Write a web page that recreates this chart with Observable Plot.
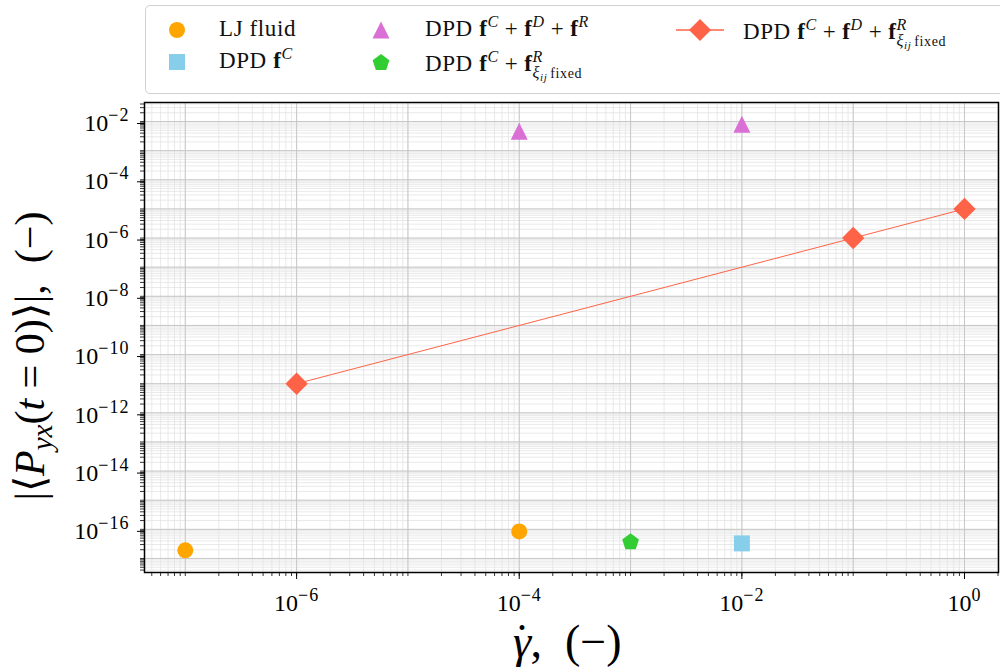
<!DOCTYPE html>
<html><head><meta charset="utf-8">
<script src="https://cdn.jsdelivr.net/npm/d3@7"></script>
<script src="https://cdn.jsdelivr.net/npm/@observablehq/plot@0.6"></script>
<style>
body{margin:0;background:#fff;}
#wrap{position:relative;width:1000px;height:668px;overflow:hidden;font-family:"Liberation Serif",serif;background:#fff;}
#legend{position:absolute;left:145px;top:5px;width:880px;height:87px;border:1.5px solid #d0d0d0;border-radius:5px;background:rgba(255,255,255,0.85);}
.lab{position:absolute;font-size:23px;line-height:1;white-space:nowrap;color:#111;letter-spacing:0.6px;}
.lab sup{font-size:16px;vertical-align:9px;line-height:0;}
.op{margin:0 6px;}
.ss{display:inline-flex;flex-direction:column;font-size:16px;line-height:1;vertical-align:9px;}
.ss sub{font-size:11px;vertical-align:-3px;line-height:0;}
.ss .fx{font-size:14px;margin-left:3px;}
.mk{position:absolute;overflow:visible;}
</style></head><body><div id="wrap"></div>
<script>
// ---- data ----
const ljX = [1e-7, 1e-4];
const ljY = [1.9e-17, 8.5e-17];
const dpdCX = [1e-2];
const dpdCY = [3.3e-17];
const dpdCDRX = [1e-4, 1e-2];
const dpdCDRY = [4.6e-3, 8.0e-3];
const dpdCRfixX = [1e-3];
const dpdCRfixY = [3.9e-17];
const dpdCDRfixX = [1e-6, 1e-1, 1e0];
const dpdCDRfixY = [1e-11, 1e-6, 1e-5];

const xTickLabels = [1e-6, 1e-4, 1e-2, 1e0];
const yTickLabels = [1e-16, 1e-14, 1e-12, 1e-10, 1e-8, 1e-6, 1e-4, 1e-2];
const xDecades = [1e-8, 1e-7, 1e-6, 1e-5, 1e-4, 1e-3, 1e-2, 1e-1, 1e0];
const yDecades = [1e-18,1e-17,1e-16,1e-15,1e-14,1e-13,1e-12,1e-11,1e-10,1e-9,1e-8,1e-7,1e-6,1e-5,1e-4,1e-3,1e-2,1e-1];
const subs = [1,2,3,4,5,6,7,8,9];

const xDomain = [4.3e-8, 2.02];
const yDomain = [3.3e-18, 4.5e-2];

const colors = {lj:"#FFA500", c:"#87CEEB", cdr:"#DA70D6", crfix:"#32CD32", cdrfix:"#FF6347"};

const inD = (v, d) => v >= d[0] && v <= d[1];
const xMinor = xDecades.flatMap(d => subs.map(s => s*d)).filter(v => inD(v, xDomain));
const yMinor = yDecades.flatMap(d => subs.map(s => s*d)).filter(v => inD(v, yDomain));
const xMajor = xDecades.filter(v => inD(v, xDomain));
const yMajor = yDecades.filter(v => inD(v, yDomain));

const pts = (xs, ys) => xs.map((x, i) => ({x, y: ys[i]}));

// ---- custom marker symbols ----
const mkSym = fn => ({draw(ctx, size){ fn(ctx, Math.sqrt(size/Math.PI)); }});
const symCircle = mkSym((c, r) => { c.moveTo(r, 0); c.arc(0, 0, r, 0, 2*Math.PI); c.closePath(); });
const symSquare = mkSym((c, r) => { c.moveTo(-r,-r); c.lineTo(r,-r); c.lineTo(r,r); c.lineTo(-r,r); c.closePath(); });
const symTri = mkSym((c, r) => { const h = r*1.06; c.moveTo(0,-h); c.lineTo(h,h); c.lineTo(-h,h); c.closePath(); });
const symPent = mkSym((c, r) => { const R = r*1.1; for (let k=0;k<5;k++){ const a=-Math.PI/2+k*2*Math.PI/5; const px=R*Math.cos(a), py=R*Math.sin(a)+R*0.1; k?c.lineTo(px,py):c.moveTo(px,py);} c.closePath(); });
const symDiam = mkSym((c, r) => { const h = r*1.4; c.moveTo(0,-h); c.lineTo(h,0); c.lineTo(0,h); c.lineTo(-h,0); c.closePath(); });

const fmt = d => "10^" + String(Math.round(Math.log10(d))).replace("-", "−");

const plot = Plot.plot({
  width: 1000, height: 668,
  marginLeft: 144, marginRight: 2, marginTop: 102, marginBottom: 96,
  style: {fontFamily: "Liberation Serif, serif", background: "white", color: "black"},
  x: {type: "log", domain: xDomain},
  y: {type: "log", domain: yDomain},
  marks: [
    Plot.ruleX(xMinor, {stroke: "#e3e3e3", strokeWidth: 0.8}),
    Plot.ruleY(yMinor, {stroke: "#e3e3e3", strokeWidth: 0.8}),
    Plot.ruleX(xMajor, {stroke: "#c4c4c4", strokeWidth: 0.9}),
    Plot.ruleY(yMajor, {stroke: "#c4c4c4", strokeWidth: 0.9}),
    Plot.axisX({ticks: xMinor, tickSize: 4, tickFormat: () => "", label: null, strokeWidth: 0.8}),
    Plot.axisY({ticks: yMinor, tickSize: 4, tickFormat: () => "", label: null, strokeWidth: 0.8}),
    Plot.axisX({ticks: xTickLabels, tickSize: 7, tickPadding: 14, fontSize: 24, tickFormat: fmt, label: null, strokeWidth: 1}),
    Plot.axisY({ticks: yTickLabels, tickSize: 7, tickPadding: 8, fontSize: 24, tickFormat: fmt, label: null, strokeWidth: 1, dy: 2}),
    Plot.line(pts(dpdCDRfixX, dpdCDRfixY), {x: "x", y: "y", stroke: colors.cdrfix, strokeWidth: 1}),
    Plot.dot(pts(ljX, ljY), {x: "x", y: "y", symbol: symCircle, r: 8, fill: colors.lj}),
    Plot.dot(pts(dpdCX, dpdCY), {x: "x", y: "y", symbol: symSquare, r: 8, fill: colors.c}),
    Plot.dot(pts(dpdCDRX, dpdCDRY), {x: "x", y: "y", symbol: symTri, r: 8, fill: colors.cdr}),
    Plot.dot(pts(dpdCRfixX, dpdCRfixY), {x: "x", y: "y", symbol: symPent, r: 8, fill: colors.crfix}),
    Plot.dot(pts(dpdCDRfixX, dpdCDRfixY), {x: "x", y: "y", symbol: symDiam, r: 8, fill: colors.cdrfix}),
    Plot.frame({stroke: "black", strokeWidth: 1.5})
  ]
});

// superscript exponents on tick labels
d3.select(plot).selectAll('g[aria-label$="tick label"] text').each(function(){
  const t = this.textContent;
  if (!t.includes("^")) return;
  const [base, ex] = t.split("^");
  const sel = d3.select(this);
  sel.text(base);
  sel.append("tspan").attr("dy", "-10px").attr("font-size", "18px").attr("letter-spacing", "1px").text(ex);
});

const svg = d3.select(plot);
// y axis label
const yl = svg.append("text").attr("transform", "translate(44,356) rotate(-90)")
  .attr("text-anchor", "middle").attr("font-size", 42).attr("font-family", "Liberation Serif, serif");
yl.append("tspan").text("|⟨");
yl.append("tspan").attr("font-style", "italic").text("P");
yl.append("tspan").attr("font-style", "italic").attr("font-size", 29).attr("dy", 8).text("yx");
yl.append("tspan").attr("dy", -8).text("(");
yl.append("tspan").attr("font-style", "italic").text("t");
yl.append("tspan").text(" = 0)⟩|,  (−)");
// x axis label (γ with dot above)
const xl = svg.append("text").attr("x", 513).attr("y", 657)
  .attr("text-anchor", "start").attr("font-size", 46).attr("font-family", "Liberation Serif, serif");
xl.append("tspan").attr("font-style", "italic").text("γ");
xl.append("tspan").attr("dx", -17).attr("dy", -1).text("˙");
xl.append("tspan").attr("dx", 1).attr("dy", 1).text(",  (−)");

const wrap = document.getElementById("wrap");
wrap.appendChild(plot);

// ---- legend ----
const leg = document.createElement("div");
leg.id = "legend";
wrap.appendChild(leg);

const plus = '<span class="op">+</span>';
const fC = '<b>f</b><sup><i>C</i></sup>';
const fD = '<b>f</b><sup><i>D</i></sup>';
const fR = '<b>f</b><sup><i>R</i></sup>';
const fRfix = '<b>f</b><span class="ss"><span><i>R</i></span><span><i>ξ<sub>ij</sub></i><span class="fx">fixed</span></span></span>';
const items = [
  {sym: "circle", color: colors.lj, cx: 177, cy: 30, tx: 219, html: "LJ fluid"},
  {sym: "square", color: colors.c, cx: 177, cy: 62, tx: 219, html: "DPD " + fC},
  {sym: "tri", color: colors.cdr, cx: 381, cy: 30, tx: 425, html: "DPD " + fC + plus + fD + plus + fR},
  {sym: "pent", color: colors.crfix, cx: 381, cy: 62, tx: 425, html: "DPD " + fC + plus + fRfix},
  {sym: "diam", color: colors.cdrfix, cx: 700, cy: 30, tx: 743, html: "DPD " + fC + plus + fD + plus + fRfix, line: true}
];
const shapes = {
  circle: '<circle cx="0" cy="0" r="8"/>',
  square: '<rect x="-8" y="-8" width="16" height="16"/>',
  tri: '<path d="M0,-8.5L8.5,8.5L-8.5,8.5Z"/>',
  pent: '<path d="' + d3.range(5).map(k => { const a = -Math.PI/2 + k*2*Math.PI/5; return (k ? "L" : "M") + (8.8*Math.cos(a)).toFixed(2) + "," + (8.8*Math.sin(a)+0.9).toFixed(2); }).join("") + 'Z"/>',
  diam: '<path d="M0,-11L11,0L0,11L-11,0Z"/>'
};
for (const it of items) {
  const s = document.createElementNS("http://www.w3.org/2000/svg", "svg");
  s.setAttribute("class", "mk");
  s.setAttribute("width", 60); s.setAttribute("height", 30);
  s.style.left = (it.cx - 30) + "px"; s.style.top = (it.cy - 15) + "px";
  s.innerHTML = '<g transform="translate(30,15)" fill="' + it.color + '">' +
    (it.line ? '<line x1="-24" x2="24" y1="0" y2="0" stroke="' + it.color + '" stroke-width="1.5"/>' : '') +
    shapes[it.sym] + '</g>';
  wrap.appendChild(s);
  const l = document.createElement("div");
  l.className = "lab";
  l.innerHTML = it.html;
  l.style.left = it.tx + "px";
  l.style.top = (it.cy - 13) + "px";
  wrap.appendChild(l);
}
</script></body></html>
